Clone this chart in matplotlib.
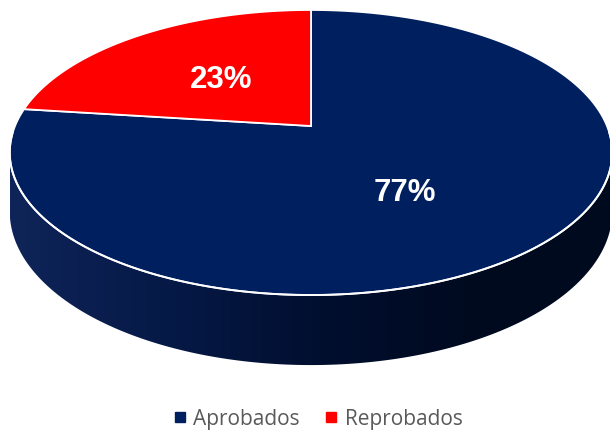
import numpy as np
import matplotlib
matplotlib.use("Agg")
import matplotlib.pyplot as plt
from matplotlib.patches import Polygon
from matplotlib.lines import Line2D
from matplotlib.colors import LinearSegmentedColormap

# ---------------- data ----------------
labels = ["Aprobados", "Reprobados"]
values = [77, 23]
colors = ["#001f5f", "#ff0000"]

# ------------- 3D pie geometry (pixel space) -------------
CX, CY = 311, 126      # pie centre on screen
A, B = 296, 137.6      # horizontal / vertical radius
K = 0.186              # perspective strength
H = 57                 # extrusion depth


def proj(phi, r=1.0):
    """phi in degrees, clockwise from 12 o'clock -> screen (x, y), y down."""
    t = np.radians(phi)
    u, v = r * np.sin(t), -r * np.cos(t)
    s = 1 - K * v
    return CX + A * u / s, CY + B * v / s, s


fig = plt.figure(figsize=(6.1, 4.3), dpi=100)
ax = fig.add_axes([0, 0, 1, 1])
ax.axis("off")

# ---- side wall (front half) with horizontal gradient ----
phi_ext = np.degrees(np.arccos(-K))            # silhouette extremes
ph = np.linspace(phi_ext, 360 - phi_ext, 300)
xt, yt, st = proj(ph)
xb, yb = xt, yt + H / st
side_xy = np.column_stack([np.r_[xt, xb[::-1]], np.r_[yt, yb[::-1]]])
side = Polygon(side_xy, closed=True, facecolor="none", edgecolor="none")
ax.add_patch(side)
cmap = LinearSegmentedColormap.from_list(
    "side", ["#0f2458", "#061a48", "#010f30", "#000a20", "#000a1f"])
grad = np.linspace(0, 1, 256).reshape(1, -1)
im = ax.imshow(grad, cmap=cmap, extent=[xt.min(), xt.max(), yb.max() + 2, yt.min() - 2],
               aspect="auto", zorder=1)
im.set_clip_path(side)
ax.set_xlim(0, 610)
ax.set_ylim(430, 0)

# ---- top face slices ----
total = sum(values)
start = 0.0
mids = []
for val, col in zip(values, colors):
    span = 360.0 * val / total
    ph = np.linspace(start, start + span, 200)
    x, y, _ = proj(ph)
    xy = np.column_stack([np.r_[CX, x], np.r_[CY, y]])
    ax.add_patch(Polygon(xy, closed=True, facecolor=col, edgecolor="white",
                         linewidth=1.3, joinstyle="miter", zorder=2))
    mids.append(start + span / 2)
    start += span

# white rim line along front edge
ph = np.linspace(phi_ext - 8, 360 - phi_ext + 8, 300)
x, y, _ = proj(ph)
ax.plot(x, y, color="white", lw=1.4, zorder=3)

# ---- data labels ----
label_offsets = [(-11, 12), (2, 2)]
for val, mid, (dx, dy) in zip(values, mids, label_offsets):
    x, y, _ = proj(mid, 0.5)
    ax.text(x + dx, y + dy, f"{val / total:.0%}", color="white", fontsize=22.5,
            fontweight="bold", family="Liberation Sans", ha="center", va="center", zorder=4)

# ---- legend ----
handles = [Line2D([], [], marker="s", linestyle="none", markersize=6.5,
                  markerfacecolor=c, markeredgecolor=c) for c in colors]
leg = ax.legend(handles, labels, loc="center", bbox_to_anchor=(0.518, 1 - 419 / 430),
                ncol=2, frameon=False, handletextpad=0.15, columnspacing=1.0,
                handlelength=1.0, prop={"family": "Open Sans", "size": 15})
for t in leg.get_texts():
    t.set_color("#595959")

fig.savefig("out.png", dpi=100)
